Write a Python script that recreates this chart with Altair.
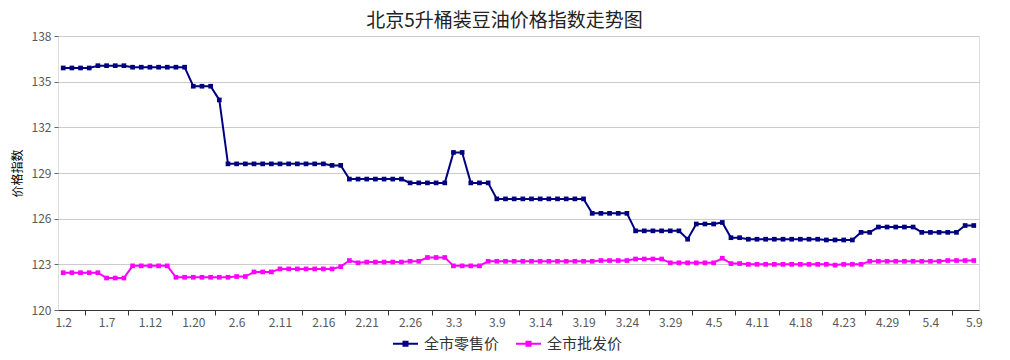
import json
import altair as alt
import pandas as pd

# ---- data ----
dates = ["1.2", "1.7", "1.12", "1.20", "2.6", "2.11", "2.16", "2.21", "2.26", "3.3", "3.9",
         "3.14", "3.19", "3.24", "3.29", "4.5", "4.11", "4.18", "4.23", "4.29", "5.4", "5.9"]

series_names = ["全市零售价", "全市批发价"]
series_colors = ["#000080", "#ff00ff"]

retail = [
    135.9, 135.9, 135.9, 135.9, 136.05, 136.05, 136.05, 136.05, 135.95, 135.95,
    135.95, 135.95, 135.95, 135.95, 135.95, 134.7, 134.7, 134.7, 133.8, 129.6,
    129.6, 129.6, 129.6, 129.6, 129.6, 129.6, 129.6, 129.6, 129.6, 129.6,
    129.6, 129.5, 129.5, 128.6, 128.6, 128.6, 128.6, 128.6, 128.6, 128.6,
    128.35, 128.35, 128.35, 128.35, 128.35, 130.35, 130.35, 128.35, 128.35, 128.35,
    127.3, 127.3, 127.3, 127.3, 127.3, 127.3, 127.3, 127.3, 127.3, 127.3,
    127.3, 126.35, 126.35, 126.35, 126.35, 126.35, 125.2, 125.2, 125.2, 125.2,
    125.2, 125.2, 124.65, 125.65, 125.65, 125.65, 125.75, 124.75, 124.75, 124.65,
    124.65, 124.65, 124.65, 124.65, 124.65, 124.65, 124.65, 124.65, 124.6, 124.6,
    124.6, 124.6, 125.1, 125.1, 125.45, 125.45, 125.45, 125.45, 125.45, 125.1,
    125.1, 125.1, 125.1, 125.1, 125.55, 125.55,
]

wholesale = [
    122.45, 122.45, 122.45, 122.45, 122.45, 122.1, 122.1, 122.1, 122.9, 122.9,
    122.9, 122.9, 122.9, 122.15, 122.15, 122.15, 122.15, 122.15, 122.15, 122.15,
    122.2, 122.2, 122.5, 122.5, 122.5, 122.7, 122.7, 122.7, 122.7, 122.7,
    122.7, 122.7, 122.85, 123.25, 123.1, 123.15, 123.15, 123.15, 123.15, 123.15,
    123.2, 123.2, 123.45, 123.45, 123.45, 122.9, 122.9, 122.9, 122.9, 123.2,
    123.2, 123.2, 123.2, 123.2, 123.2, 123.2, 123.2, 123.2, 123.2, 123.2,
    123.2, 123.2, 123.25, 123.25, 123.25, 123.25, 123.35, 123.35, 123.35, 123.35,
    123.1, 123.1, 123.1, 123.1, 123.1, 123.1, 123.4, 123.05, 123.05, 123.0,
    123.0, 123.0, 123.0, 123.0, 123.0, 123.0, 123.0, 123.0, 123.0, 122.95,
    123.0, 123.0, 123.0, 123.2, 123.2, 123.2, 123.2, 123.2, 123.2, 123.2,
    123.2, 123.2, 123.25, 123.25, 123.25, 123.25,
]

y_ticks = [120, 123, 126, 129, 132, 135, 138]
label_step = 5

# ---- table ----
rows = []
for name, vals in zip(series_names, [retail, wholesale]):
    for i, v in enumerate(vals):
        rows.append({"idx": i, "value": v, "series": name})
df = pd.DataFrame(rows)

label_pos = [i * label_step for i in range(len(dates))]
tick_pos = [i * label_step + label_step / 2 for i in range(len(dates) - 1)]
x_values = sorted(label_pos + tick_pos)

FONT = "Noto Sans CJK SC"
label_expr = ("datum.value % 5 == 0 ? " + json.dumps(dates, ensure_ascii=False)
              + "[round(datum.value / 5)] : ''")

x_axis = alt.Axis(
    values=x_values,
    labelExpr=label_expr,
    labelOverlap=False,
    labelFlush=False,
    labelBound=False,
    grid=False,
    domainColor="#333333",
    domainWidth=1,
    tickColor="#333333",
    tickSize=5,
    tickOpacity={"condition": {"test": "datum.value % 5 != 0", "value": 1}, "value": 0},
    labelPadding=2,
    labelFont=FONT,
    labelFontSize=12,
    labelColor="#595959",
    title=None,
)

y_axis = alt.Axis(
    values=y_ticks,
    domain=False,
    grid=True,
    gridColor="#cccccc",
    gridWidth=1,
    tickColor="#666666",
    tickSize=4,
    labelPadding=3,
    labelFont=FONT,
    labelFontSize=12,
    labelColor="#595959",
    title="价格指数",
    titleFont=FONT,
    titleFontSize=12,
    titleFontWeight="normal",
    titleColor="#000000",
    titleX=-41,
    titleY=137,
    titleAlign="center",
    titleBaseline="middle",
    titleAngle=270,
)

legend = alt.Legend(
    orient="none",
    legendX=334,
    legendY=294,
    direction="horizontal",
    title=None,
    symbolType="M-1,0H1M-0.16,-0.16H0.16V0.16H-0.16Z",
    symbolSize=625,
    symbolStrokeWidth=2,
    labelFont=FONT,
    labelFontSize=15,
    labelColor="#333333",
    labelOffset=5,
    columnPadding=12,
)

chart = alt.Chart(df).mark_line(
    strokeWidth=2,
    point=alt.OverlayMarkDef(shape="square", size=22, filled=True, opacity=1),
).encode(
    x=alt.X("idx:Q", scale=alt.Scale(domain=[-0.6, 105.6], nice=False, zero=False), axis=x_axis),
    y=alt.Y("value:Q", scale=alt.Scale(domain=[120, 138], nice=False, zero=False), axis=y_axis),
    color=alt.Color("series:N", scale=alt.Scale(domain=series_names, range=series_colors),
                    sort=series_names, legend=legend),
    order="idx:Q",
).properties(
    width=921,
    height=274,
    padding={"left": 50, "top": 28, "right": 23, "bottom": 42},
    autosize=alt.AutoSizeParams(type="none"),
    title=alt.TitleParams(
        "北京5升桶装豆油价格指数走势图",
        font=FONT,
        fontSize=19,
        fontWeight="normal",
        color="#222222",
        anchor="middle",
        dx=-14,
        offset=-1,
    ),
).configure_view(stroke=None).configure(background="white")

chart.save("out.html", embed_options={"renderer": "svg", "actions": False})
